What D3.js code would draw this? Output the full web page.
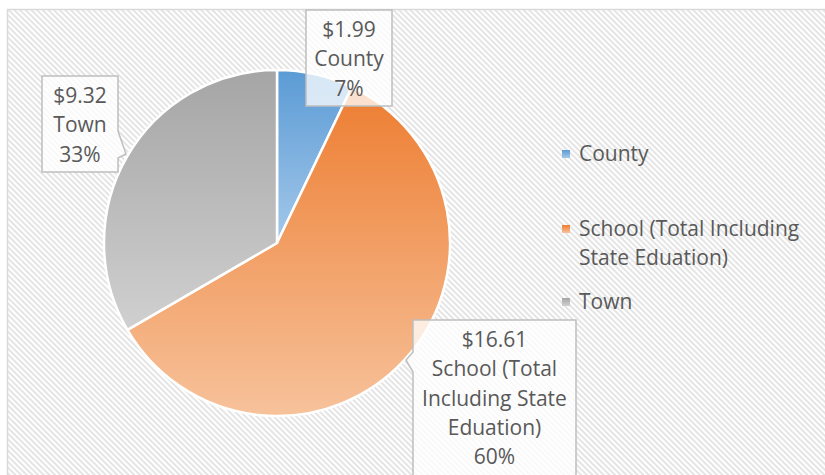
<!DOCTYPE html>
<html>
<head>
<meta charset="utf-8">
<script src="https://d3js.org/d3.v7.min.js"></script>
<style>
  body { margin: 0; background: #fff; }
  svg text { font-family: "Open Sans", "Noto Sans", sans-serif; fill: #595959; }
</style>
</head>
<body>
<script>
  // data
  var categories = ['County', 'School (Total Including State Eduation)', 'Town'];
  var values = [1.99, 16.61, 9.32];
  var percents = [7, 60, 33];
  var legendLines = [['County'], ['School (Total Including', 'State Eduation)'], ['Town']];
  var labelLines = [['County'], ['School (Total', 'Including State', 'Eduation)'], ['Town']];
  var colorTop = ['#5b9bd5', '#ed7d31', '#a5a5a5'];
  var colorBottom = ['#a4c8ea', '#f7c29b', '#d0d0d0'];

  var width = 825, height = 475;
  var cx = 277, cy = 243, r = 173;

  var svg = d3.select('body').append('svg')
    .attr('width', width)
    .attr('height', height);

  var defs = svg.append('defs');

  // hatched background
  var pat = defs.append('pattern')
    .attr('id', 'hatch')
    .attr('patternUnits', 'userSpaceOnUse')
    .attr('width', 4).attr('height', 4)
    .attr('patternTransform', 'rotate(45)');
  pat.append('rect').attr('width', 4).attr('height', 4).attr('fill', '#fff');
  pat.append('rect').attr('width', 4).attr('height', 1.8).attr('fill', '#e2e2e2');

  categories.forEach(function(c, i) {
    var g = defs.append('linearGradient')
      .attr('id', 'grad' + i)
      .attr('x1', 0).attr('y1', 0).attr('x2', 0).attr('y2', 1);
    g.append('stop').attr('offset', '0%').attr('stop-color', colorTop[i]);
    g.append('stop').attr('offset', '100%').attr('stop-color', colorBottom[i]);
  });

  svg.append('rect')
    .attr('x', 7.5).attr('y', 9.5)
    .attr('width', 840).attr('height', 490)
    .attr('fill', 'url(#hatch)')
    .attr('stroke', '#d9d9d9')
    .attr('stroke-width', 1.5);

  var pie = d3.pie().sort(null).value(function(d) { return d; });
  var arc = d3.arc().innerRadius(0).outerRadius(r);
  var arcs = pie(values);

  var pieG = svg.append('g').attr('transform', 'translate(' + cx + ',' + cy + ')');
  pieG.selectAll('path')
    .data(arcs)
    .enter()
    .append('path')
    .attr('d', arc)
    .attr('fill', function(d, i) { return 'url(#grad' + i + ')'; })
    .attr('stroke', '#fff')
    .attr('stroke-width', 2.5)
    .attr('stroke-linejoin', 'round');

  // data label callouts (box position, pointer)
  var boxes = [
    {x: 306, y: 10, w: 86, h: 96, ptr: null},
    {x: 413, y: 320, w: 163, h: 170, ptr: {side: 'left', a: 352, b: 372, tx: 406, ty: 360}},
    {x: 42, y: 76, w: 76, h: 96, ptr: {side: 'right', a: 131, b: 158, tx: 126, ty: 154}}
  ];

  function boxPath(b) {
    var x0 = b.x, y0 = b.y, x1 = b.x + b.w, y1 = b.y + b.h, p = b.ptr;
    if (!p) return 'M' + x0 + ',' + y0 + 'H' + x1 + 'V' + y1 + 'H' + x0 + 'Z';
    if (p.side === 'right')
      return 'M' + x0 + ',' + y0 + 'H' + x1 + 'V' + p.a + 'L' + p.tx + ',' + p.ty +
        'L' + x1 + ',' + p.b + 'V' + y1 + 'H' + x0 + 'Z';
    return 'M' + x0 + ',' + y0 + 'H' + x1 + 'V' + y1 + 'H' + x0 + 'V' + p.b +
      'L' + p.tx + ',' + p.ty + 'L' + x0 + ',' + p.a + 'Z';
  }

  var lh = 29.3;
  var labels = svg.append('g');
  arcs.forEach(function(a, i) {
    var b = boxes[i];
    labels.append('path')
      .attr('d', boxPath(b))
      .attr('fill', '#fff')
      .attr('fill-opacity', 0.76)
      .attr('stroke', '#bfbfbf')
      .attr('stroke-width', 1.5);
    var lines = ['$' + values[i].toFixed(2)].concat(labelLines[i])
      .concat([percents[i] + '%']);
    var t = labels.append('text')
      .attr('text-anchor', 'middle')
      .style('font-size', '21px');
    lines.forEach(function(l, j) {
      t.append('tspan')
        .attr('x', b.x + b.w / 2)
        .attr('y', b.y + 27 + j * lh)
        .text(l);
    });
  });

  // legend
  var legendY = [154, 229, 302];
  var legend = svg.append('g');
  categories.forEach(function(c, i) {
    legend.append('rect')
      .attr('x', 562).attr('y', legendY[i] - 4)
      .attr('width', 8).attr('height', 8)
      .attr('fill', 'url(#grad' + i + ')');
    var t = legend.append('text').style('font-size', '21px');
    legendLines[i].forEach(function(l, j) {
      t.append('tspan')
        .attr('x', 579)
        .attr('y', legendY[i] + 7 + j * lh)
        .text(l);
    });
  });
</script>
</body>
</html>
